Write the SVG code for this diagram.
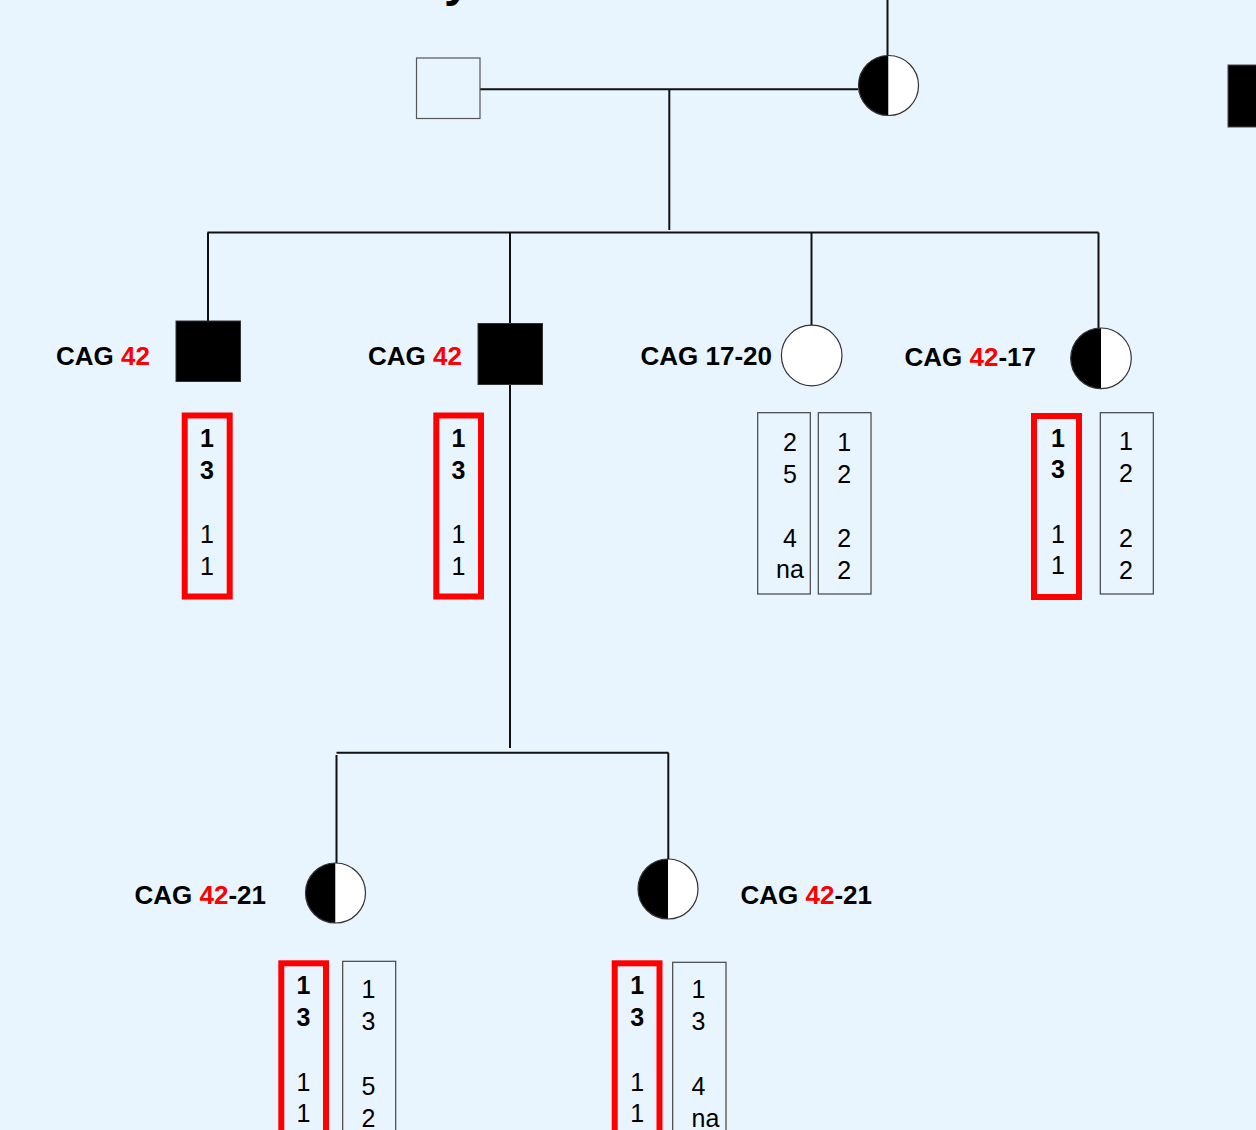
<svg xmlns="http://www.w3.org/2000/svg" width="1256" height="1130" viewBox="0 0 1256 1130">
<style>
.bg{fill:#E9F5FE}
.ln{stroke:#111;stroke-width:2;fill:none}
.sq-open{fill:none;stroke:#555;stroke-width:1.2}
.sq-fill{fill:#000;stroke:#333;stroke-width:1}
.outline{fill:none;stroke:#333;stroke-width:1.2}
.lbl{font-family:"Liberation Sans",Arial,sans-serif;font-size:26px;font-weight:bold;fill:#000}
.red{fill:#FF0000}
.num{font-family:"Liberation Sans",Arial,sans-serif;font-size:25px;fill:#000}
.b{font-weight:bold}
.rbox{fill:none;stroke:#FF0000;stroke-width:6}
.gbox{fill:none;stroke:#444;stroke-width:1.2}
</style>
<rect class="bg" x="0" y="0" width="1256" height="1130"/>
<text x="444" y="-4" style="font-family:'Liberation Sans',Arial,sans-serif;font-size:48px;font-weight:bold;fill:#000">y</text>
<rect x="1228" y="65" width="30" height="62" fill="#000" stroke="#444" stroke-width="1"/>

<g id="connectors">
  <line class="ln" x1="887.5" y1="0" x2="887.5" y2="56"/>
  <line class="ln" x1="480" y1="89.3" x2="858" y2="89.3"/>
  <line class="ln" x1="669.3" y1="89.3" x2="669.3" y2="230"/>
  <line class="ln" x1="207.5" y1="232.5" x2="1098.5" y2="232.5"/>
  <line class="ln" x1="208" y1="232.5" x2="208" y2="321"/>
  <line class="ln" x1="510" y1="232.5" x2="510" y2="324"/>
  <line class="ln" x1="811.5" y1="232.5" x2="811.5" y2="325"/>
  <line class="ln" x1="1098.5" y1="232.5" x2="1098.5" y2="328"/>
  <line class="ln" x1="510" y1="385" x2="510" y2="748"/>
  <line class="ln" x1="336.5" y1="752.7" x2="668.5" y2="752.7"/>
  <line class="ln" x1="336.5" y1="755" x2="336.5" y2="863"/>
  <line class="ln" x1="668.3" y1="752.7" x2="668.3" y2="859"/>
</g>

<g id="father">
  <rect class="sq-open" x="416.5" y="58" width="63.5" height="60.5"/>
</g>
<g id="mother">
  <path d="M888.5,55.5 A30,30 0 0 0 888.5,115.5 Z" fill="#000"/>
  <path d="M888.5,55.5 A30,30 0 0 1 888.5,115.5 Z" fill="#fff"/>
  <circle class="outline" cx="888.5" cy="85.5" r="30"/>
</g>

<g id="child1">
  <rect class="sq-fill" x="176" y="321" width="64.5" height="60.5"/>
  <text class="lbl" x="56" y="364.5">CAG <tspan class="red">42</tspan></text>
  <rect class="rbox" x="184.7" y="415.5" width="45" height="181"/>
  <g class="num" text-anchor="middle">
    <text class="b" x="207" y="447">1</text>
    <text class="b" x="207" y="479">3</text>
    <text x="207" y="543">1</text>
    <text x="207" y="575">1</text>
  </g>
</g>

<g id="child2">
  <rect class="sq-fill" x="478" y="323.5" width="64.5" height="61"/>
  <text class="lbl" x="368" y="364.5">CAG <tspan class="red">42</tspan></text>
  <rect class="rbox" x="436.3" y="415.5" width="44.7" height="181"/>
  <g class="num" text-anchor="middle">
    <text class="b" x="458.5" y="447">1</text>
    <text class="b" x="458.5" y="479">3</text>
    <text x="458.5" y="543">1</text>
    <text x="458.5" y="575">1</text>
  </g>
</g>

<g id="child3">
  <circle cx="811.7" cy="355.5" r="30.3" fill="#fff" stroke="#333" stroke-width="1.2"/>
  <text class="lbl" x="640.5" y="365">CAG 17-20</text>
  <rect class="gbox" x="757.7" y="412.7" width="52.6" height="181.3"/>
  <rect class="gbox" x="818.3" y="412.7" width="52.7" height="181.3"/>
  <g class="num" text-anchor="middle">
    <text x="790" y="451">2</text>
    <text x="790" y="483">5</text>
    <text x="790" y="547">4</text>
    <text x="790" y="578">na</text>
    <text x="844.3" y="451">1</text>
    <text x="844.3" y="483">2</text>
    <text x="844.3" y="547">2</text>
    <text x="844.3" y="579">2</text>
  </g>
</g>

<g id="child4">
  <path d="M1101,328 A30.3,30.3 0 0 0 1101,388.6 Z" fill="#000"/>
  <path d="M1101,328 A30.3,30.3 0 0 1 1101,388.6 Z" fill="#fff"/>
  <circle class="outline" cx="1101" cy="358.3" r="30.3"/>
  <text class="lbl" x="904.5" y="365.5">CAG <tspan class="red">42</tspan>-17</text>
  <rect class="rbox" x="1034" y="416" width="45" height="181"/>
  <rect class="gbox" x="1100.3" y="412.7" width="53" height="181.3"/>
  <g class="num" text-anchor="middle">
    <text class="b" x="1058" y="447">1</text>
    <text class="b" x="1058" y="478">3</text>
    <text x="1058" y="543">1</text>
    <text x="1058" y="574">1</text>
    <text x="1126" y="450">1</text>
    <text x="1126" y="482">2</text>
    <text x="1126" y="547">2</text>
    <text x="1126" y="579">2</text>
  </g>
</g>

<g id="grandchild1">
  <path d="M335.5,863 A30,30 0 0 0 335.5,923 Z" fill="#000"/>
  <path d="M335.5,863 A30,30 0 0 1 335.5,923 Z" fill="#fff"/>
  <circle class="outline" cx="335.5" cy="893" r="30"/>
  <text class="lbl" x="134.5" y="904.3">CAG <tspan class="red">42</tspan>-21</text>
  <rect class="rbox" x="281.3" y="963.3" width="44.7" height="190"/>
  <rect class="gbox" x="342.7" y="961.3" width="53" height="190"/>
  <g class="num" text-anchor="middle">
    <text class="b" x="303.5" y="994">1</text>
    <text class="b" x="303.5" y="1026">3</text>
    <text x="303.5" y="1091">1</text>
    <text x="303.5" y="1122">1</text>
    <text x="368.5" y="998">1</text>
    <text x="368.5" y="1030">3</text>
    <text x="368.5" y="1095">5</text>
    <text x="368.5" y="1127">2</text>
  </g>
</g>

<g id="grandchild2">
  <path d="M668,859 A30,30 0 0 0 668,919 Z" fill="#000"/>
  <path d="M668,859 A30,30 0 0 1 668,919 Z" fill="#fff"/>
  <circle class="outline" cx="668" cy="889" r="30"/>
  <text class="lbl" x="740.5" y="904.3">CAG <tspan class="red">42</tspan>-21</text>
  <rect class="rbox" x="614.7" y="963.3" width="44.8" height="190"/>
  <rect class="gbox" x="672.7" y="962.3" width="53.3" height="190"/>
  <g class="num">
    <text class="b" x="637.3" y="994" text-anchor="middle">1</text>
    <text class="b" x="637.3" y="1026" text-anchor="middle">3</text>
    <text x="637.3" y="1091" text-anchor="middle">1</text>
    <text x="637.3" y="1122" text-anchor="middle">1</text>
    <text x="691.5" y="998">1</text>
    <text x="691.5" y="1030">3</text>
    <text x="691.5" y="1095">4</text>
    <text x="691.5" y="1127">na</text>
  </g>
</g>
</svg>
